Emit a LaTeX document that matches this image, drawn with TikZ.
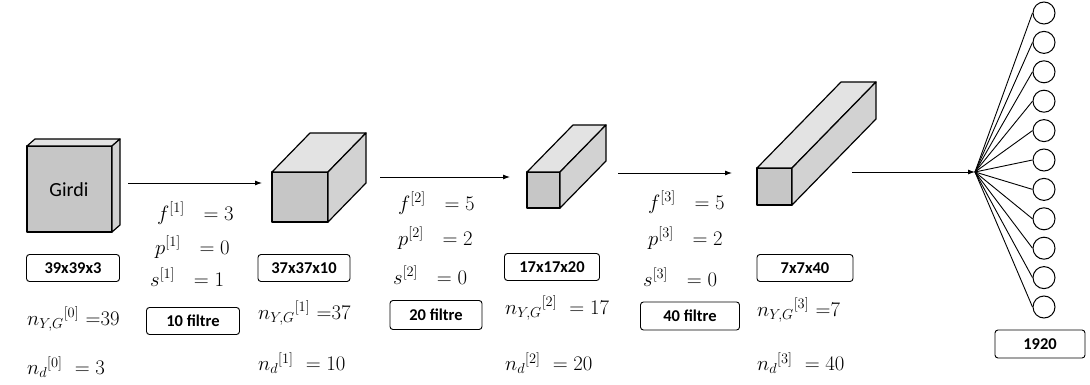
\documentclass[tikz,border=0pt]{standalone}
\usepackage{fontspec}
\newfontfamily\boxfont{Carlito}
\usetikzlibrary{arrows.meta}

\tikzset{
  sizebox/.style={draw, rounded corners=3pt, line width=0.9pt, minimum height=27pt, inner sep=0pt,
                  font=\boxfont\bfseries\fontsize{16.5}{18}\selectfont},
  eqn/.style={anchor=west, inner sep=0pt, font=\fontsize{21.5}{25}\selectfont},
  neuron/.style={circle, draw, line width=1pt, minimum size=22pt, inner sep=0pt},
  flow/.style={-{Latex[length=7pt,width=5pt]}, line width=0.9pt},
  face/.style={draw=black, line width=1.2pt, line join=round}
}

% #1 left, #2 right, #3 top, #4 bottom, #5 dx, #6 dy
\newcommand{\cuboid}[6]{%
  \filldraw[face, fill=gray!45] (#1,#3) rectangle (#2,#4);
  \filldraw[face, fill=gray!22] (#1,#3) -- (#1+#5,#3+#6) -- (#2+#5,#3+#6) -- (#2,#3) -- cycle;
  \filldraw[face, fill=gray!35] (#2,#3) -- (#2+#5,#3+#6) -- (#2+#5,#4+#6) -- (#2,#4) -- cycle;
}

\begin{document}
\begin{tikzpicture}[x=1pt, y=-1pt]
    \useasboundingbox (0,0) rectangle (1090,385);

    \cuboid{27}{112}{146}{232}{8}{-7}
    \cuboid{272}{328}{172}{222}{38}{-39}
    \cuboid{527}{560}{172}{208}{46}{-47}
    \cuboid{757}{792}{168}{205}{84}{-86}
    \node[font=\boxfont\fontsize{20}{24}\selectfont] at (69,190) (girdi) {Girdi};

    \coordinate (a1s) at (128,183);
    \coordinate (a1e) at (262,183);
    \coordinate (a2s) at (380,177);
    \coordinate (a2e) at (510,177);
    \coordinate (a3s) at (618,173);
    \coordinate (a3e) at (732,173);
    \coordinate (a4s) at (852,172);
    \coordinate (fan) at (975,172);
    \draw[flow] (a1s) -- (a1e);
    \draw[flow] (a2s) -- (a2e);
    \draw[flow] (a3s) -- (a3e);
    \draw[flow] (a4s) -- (fan);

    \node[sizebox, minimum width=93pt] at (73,268) (size0) {39x39x3};
    \node[sizebox, minimum width=92pt] at (304,268) (size1) {37x37x10};
    \node[sizebox, minimum width=95pt] at (552,267) (size2) {17x17x20};
    \node[sizebox, minimum width=96pt] at (805,268) (size3) {7x7x40};
    \node[sizebox, minimum width=90pt, minimum height=28pt] at (1040,344) (out) {1920};

    \node[sizebox, minimum width=93pt] at (193,321) (filt1) {10 filtre};
    \node[sizebox, minimum width=92pt, minimum height=29pt] at (436,315) (filt2) {20 filtre};
    \node[sizebox, minimum width=99pt, minimum height=28pt] at (690,316) (filt3) {40 filtre};

    \node[eqn] at (27,319) (ny0) {${n_{Y,G}}^{[0]}\ {=}39$};
    \node[eqn] at (27,367) (nd0) {${n_d}^{[0]}\ = 3$};
    \node[eqn] at (157,213) (f1) {$f^{[1]}\ \ = 3$};
    \node[eqn] at (155,247) (p1) {$p^{[1]}\ \ = 0$};
    \node[eqn] at (150,277) (s1) {$s^{[1]}\ \ = 1$};

    \node[eqn] at (258,313) (ny1) {${n_{Y,G}}^{[1]}\ {=}37$};
    \node[eqn] at (258,363) (nd1) {${n_d}^{[1]}\ = 10$};
    \node[eqn] at (398,203) (f2) {$f^{[2]}\ \ = 5$};
    \node[eqn] at (398,238) (p2) {$p^{[2]}\ \ = 2$};
    \node[eqn] at (393,275) (s2) {$s^{[2]}\ \ = 0$};

    \node[eqn] at (505,308) (ny2) {${n_{Y,G}}^{[2]}\ = 17$};
    \node[eqn] at (505,363) (nd2) {${n_d}^{[2]}\ = 20$};
    \node[eqn] at (648,202) (f3) {$f^{[3]}\ \ = 5$};
    \node[eqn] at (648,238) (p3) {$p^{[3]}\ \ = 2$};
    \node[eqn] at (643,277) (s3) {$s^{[3]}\ \ = 0$};

    \node[eqn] at (757,310) (ny3) {${n_{Y,G}}^{[3]}\ {=}7$};
    \node[eqn] at (757,363) (nd3) {${n_d}^{[3]}\ = 40$};

    \foreach \i in {1,...,11}
        \node[neuron] at (1044,{13+29.4*(\i-1)}) (o\i) {};
    \foreach \i in {1,...,11}
        \draw[line width=0.9pt] (fan) -- (o\i.west);

\end{tikzpicture}
\end{document}
